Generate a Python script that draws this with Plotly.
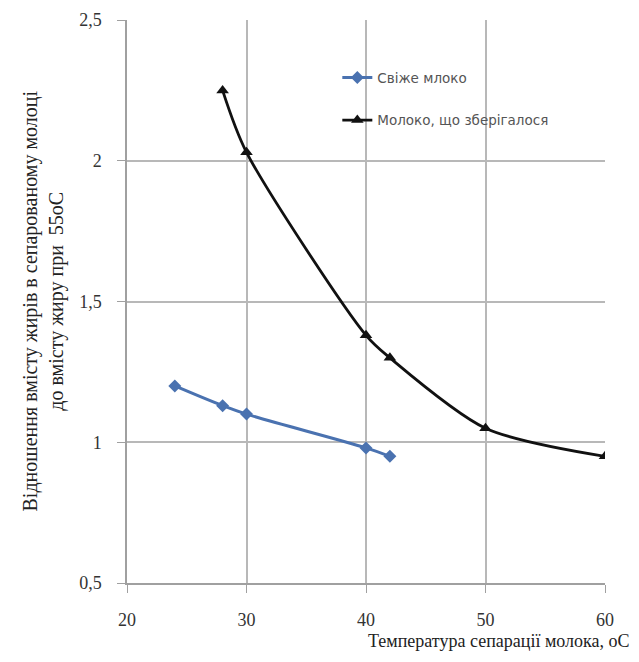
import plotly.graph_objects as go

fresh_x = [24, 28, 30, 40, 42]
fresh_y = [1.20, 1.13, 1.10, 0.98, 0.95]
stored_x = [28, 30, 40, 42, 50, 60]
stored_y = [2.25, 2.03, 1.38, 1.30, 1.05, 0.95]
names = ["Свіже млоко", "Молоко, що зберігалося"]
x_ticks = [20, 30, 40, 50, 60]
y_ticks = [0.5, 1, 1.5, 2, 2.5]

fig = go.Figure()
fig.add_trace(go.Scatter(
    x=fresh_x, y=fresh_y, name=names[0], mode="lines+markers",
    line=dict(color="#4a72b0", width=3, shape="spline"),
    marker=dict(symbol="diamond", size=10, color="#4a72b0"),
    legendgroup="a"))
fig.add_trace(go.Scatter(
    x=stored_x, y=stored_y, name=names[1], mode="lines+markers",
    line=dict(color="#111111", width=2.8, shape="spline", smoothing=0.8),
    marker=dict(symbol="triangle-up", size=11, color="#111111"),
    legendgroup="b"))

serif = "Liberation Serif"
fig.update_layout(
    width=631, height=654,
    margin=dict(l=119, r=34, t=12, b=79),
    paper_bgcolor="white", plot_bgcolor="white",
    separators=", ",
    showlegend=True,
    legend=dict(x=0.44, y=0.925, xanchor="left", yanchor="top",
                bgcolor="rgba(0,0,0,0)", traceorder="grouped",
                tracegroupgap=22,
                font=dict(family="DejaVu Sans", size=13.5, color="#555555")),
    xaxis=dict(range=[20, 60], tickvals=x_ticks, showgrid=True,
               gridcolor="#b8b8b8", gridwidth=1.5,
               showline=True, linecolor="#a0a0a0", linewidth=1.5,
               ticks="outside", ticklen=8, tickcolor="#a0a0a0",
               ticklabelstandoff=12,
               tickfont=dict(family=serif, size=18, color="#333333"),
               zeroline=False, automargin=False),
    yaxis=dict(range=[0.5, 2.5], tickvals=y_ticks, showgrid=True,
               gridcolor="#b8b8b8", gridwidth=1.5,
               showline=True, linecolor="#a0a0a0", linewidth=1.5,
               ticks="outside", ticklen=8, tickcolor="#a0a0a0",
               ticklabelstandoff=12,
               tickfont=dict(family=serif, size=18, color="#333333"),
               zeroline=False, automargin=False),
)
fig.add_annotation(xref="paper", yref="paper", x=0, y=0.5, xshift=-84,
                   xanchor="center", yanchor="middle", showarrow=False,
                   textangle=-90,
                   text="Відношення вмісту жирів в сепарованому молоці<br>до вмісту жиру при  55оС",
                   font=dict(family=serif, size=20, color="#222222"))
fig.add_annotation(xref="paper", yref="paper", x=1, y=0, xshift=27, yshift=-46,
                   xanchor="right", yanchor="top", showarrow=False,
                   text="Температура сепарації молока, оС",
                   font=dict(family=serif, size=18, color="#222222"))
fig.write_html("out.html")
